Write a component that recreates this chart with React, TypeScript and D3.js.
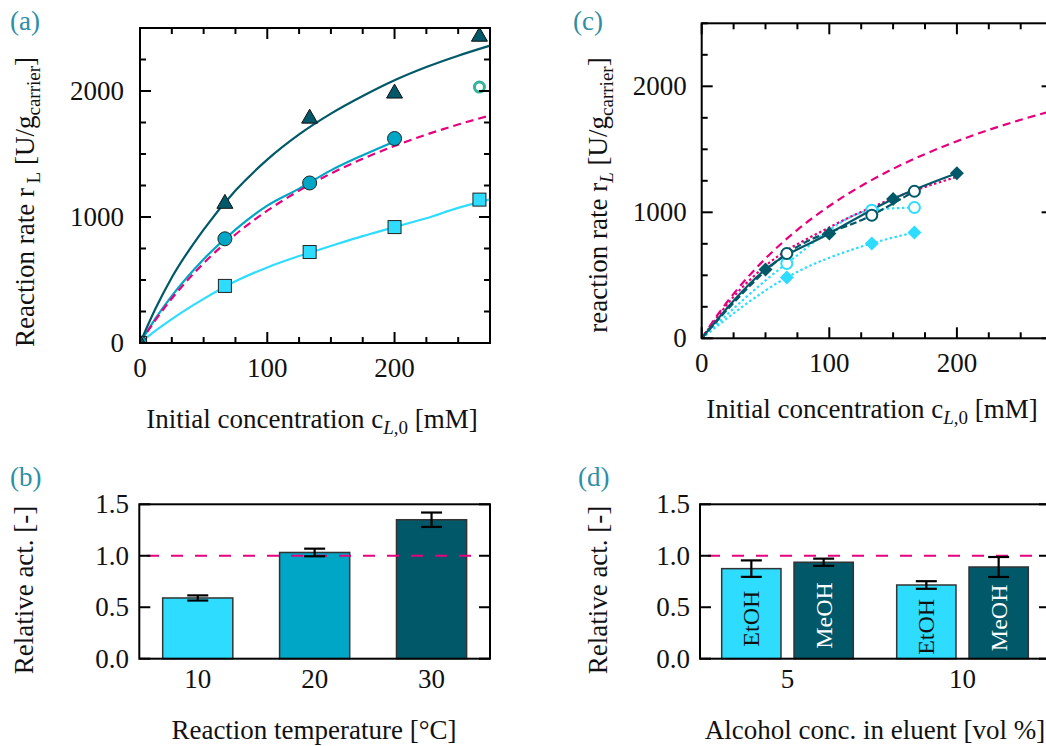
import React from 'react';
import * as d3 from 'd3';

const FONT = "'Liberation Serif', 'Times New Roman', Times, serif";
const C_LIGHT = '#2ddcff';
const C_MID = '#00a6c6';
const C_DARK = '#005868';
const C_MAG = '#e6007e';
const C_OPEN = '#30b59c';
const C_LABEL = '#2e8ea6';
const FS = 27;

// ---------- panel (a) data ----------
const concA = [0, 66.7, 133.3, 200, 266.7];
const rate30 = [0, 1111, 1787, 1986, 2437];
const conc20 = [0, 66.7, 133.3, 200];
const rate20 = [0, 827, 1270, 1623];
const rate10 = [0, 453, 722, 920, 1138];
const openConcA = [266.7];
const openRateA = [2031];
const fitConc = [0, 12.5, 25, 50, 75, 100, 125, 150, 175, 200, 225, 250, 275];
const fit30 = [0, 280, 520, 900, 1210, 1455, 1655, 1820, 1960, 2085, 2190, 2280, 2360];
const fitConc20 = [0, 12.5, 25, 50, 75, 100, 125, 150, 175, 200];
const fit20 = [0, 200, 374, 665, 900, 1090, 1225, 1370, 1490, 1600];
const fitRef = [0, 187, 353, 633, 861, 1050, 1209, 1345, 1462, 1564, 1654, 1734, 1806];
const fit10 = [0, 100, 190, 350, 490, 600, 690, 770, 848, 920, 990, 1072, 1140];

// ---------- panel (c) data ----------
const concDiaDark = [0, 50, 100, 150, 200];
const rateDiaDark = [0, 547, 832, 1106, 1310];
const concC = [0, 66.7, 133.3, 166.7];
const rateOpenDark = [0, 673, 977, 1167];
const rateOpenLight = [0, 594, 1017, 1038];
const rateDiaLight = [0, 483, 753, 840];
const refDotConc = [0, 25, 50, 100, 150, 200];
const refDotRate = [0, 330, 575, 880, 1110, 1281];

// ---------- panel (b) data ----------
const temps = ['10', '20', '30'];
const tempAct = [0.59, 1.032, 1.35];
const tempErr = [0.025, 0.037, 0.07];
const tempColors = [C_LIGHT, C_MID, C_DARK];

// ---------- panel (d) data ----------
const alcConc = ['5', '10'];
const alcTypes = ['EtOH', 'MeOH'];
const actEtOH = [0.875, 0.716];
const actMeOH = [0.937, 0.891];
const errEtOH = [0.08, 0.037];
const errMeOH = [0.035, 0.097];

const rateMajor = [0, 1000, 2000];
const rateMinor = d3.range(0, 2501, 250);
const concMajor = [0, 100, 200];
const concMinor = d3.range(0, 276, 25);
const actTicks = [0, 0.5, 1.0, 1.5];

const zip = (xs: number[], ys: number[]) => ys.map((y, i) => [xs[i], y] as [number, number]);

function Frame({ x, y, xMaj, xMin, yMaj, yMin }: any) {
  const [x0, x1] = x.range();
  const [y0, y1] = y.range();
  const L = 11, S = 6;
  const lines: any[] = [];
  (xMin || []).forEach((v: number, i: number) => {
    const p = x(v);
    const len = xMaj.includes(v) ? L : S;
    lines.push(<line key={'xb' + i} x1={p} x2={p} y1={y0} y2={y0 - len} />);
    lines.push(<line key={'xt' + i} x1={p} x2={p} y1={y1} y2={y1 + len} />);
  });
  (yMin || []).forEach((v: number, i: number) => {
    const p = y(v);
    const len = yMaj.includes(v) ? L : S;
    lines.push(<line key={'yl' + i} x1={x0} x2={x0 + len} y1={p} y2={p} />);
    lines.push(<line key={'yr' + i} x1={x1} x2={x1 - len} y1={p} y2={p} />);
  });
  return (
    <g stroke="#000" strokeWidth={2} fill="none">
      {lines}
      <rect x={x0} y={y1} width={x1 - x0} height={y0 - y1} />
    </g>
  );
}

function triPath(cx: number, cy: number, s: number) {
  const h = s * 0.87;
  return `M${cx},${cy - h * 0.62}L${cx + s / 2},${cy + h * 0.38}L${cx - s / 2},${cy + h * 0.38}Z`;
}
function diaPath(cx: number, cy: number, s: number) {
  return `M${cx},${cy - s}L${cx + s},${cy}L${cx},${cy + s}L${cx - s},${cy}Z`;
}

function PanelA() {
  const x = d3.scaleLinear().domain([0, 275]).range([140, 490]);
  const y = d3.scaleLinear().domain([0, 2500]).range([343, 28]);
  const line = d3.line<[number, number]>().x(d => x(d[0])).y(d => y(d[1])).curve(d3.curveMonotoneX);
  return (
    <g>
      <defs>
        <clipPath id="clipA"><rect x={140} y={28} width={350} height={315} /></clipPath>
      </defs>
      <g fill="none" strokeWidth={2.2}>
        <path d={line(zip(fitConc, fit10))!} stroke={C_LIGHT} />
        <path d={line(zip(fitConc20, fit20))!} stroke={C_MID} />
        <path d={line(zip(fitConc, fitRef))!} stroke={C_MAG} strokeDasharray="8,5" />
        <path d={line(zip(fitConc, fit30))!} stroke={C_DARK} />
      </g>
      <g clipPath="url(#clipA)">
        {concA.map((c, i) => (
          <rect key={'s' + i} x={x(c) - 6.5} y={y(rate10[i]) - 6.5} width={13} height={13} fill={C_LIGHT} stroke="#222" strokeWidth={1} />
        ))}
        {conc20.map((c, i) => (
          <circle key={'c' + i} cx={x(c)} cy={y(rate20[i])} r={7} fill={C_MID} stroke="#222" strokeWidth={1} />
        ))}
        {concA.map((c, i) => (
          <path key={'t' + i} d={triPath(x(c), y(rate30[i]), 16)} fill={C_DARK} stroke="#111" strokeWidth={1} />
        ))}
        {openConcA.map((c, i) => (
          <circle key={'o' + i} cx={x(c)} cy={y(openRateA[i])} r={5} fill="none" stroke={C_OPEN} strokeWidth={3} />
        ))}
      </g>
      <Frame x={x} y={y} xMaj={concMajor} xMin={concMinor} yMaj={rateMajor} yMin={rateMinor} />
      <g fontFamily={FONT} fontSize={FS} fill="#111">
        {rateMajor.map(v => (
          <text key={v} x={124} y={y(v) + 9} textAnchor="end">{v}</text>
        ))}
        {concMajor.map(v => (
          <text key={v} x={x(v)} y={377} textAnchor="middle">{v}</text>
        ))}
        <text x={312} y={428} textAnchor="middle">
          Initial concentration c<tspan dy={6} fontSize={19} fontStyle="italic">L</tspan><tspan fontSize={19}>,0</tspan><tspan dy={-6}> [mM]</tspan>
        </text>
        <text transform="translate(34,202) rotate(-90)" textAnchor="middle">
          Reaction rate r<tspan dy={6} fontSize={19}> L</tspan><tspan dy={-6}> [U/g</tspan><tspan dy={6} fontSize={19}>carrier</tspan><tspan dy={-6}>]</tspan>
        </text>
        <text x={10} y={30} fontSize={27} fill={C_LABEL}>(a)</text>
      </g>
    </g>
  );
}

function PanelC() {
  const x = d3.scaleLinear().domain([0, 275]).range([701.7, 1052.6]);
  const y = d3.scaleLinear().domain([0, 2500]).range([338.3, 23.3]);
  const line = d3.line<[number, number]>().x(d => x(d[0])).y(d => y(d[1])).curve(d3.curveMonotoneX);
  return (
    <g>
      <g fill="none" strokeWidth={2.2}>
        <path d={line(zip(fitConc, fitRef))!} stroke={C_MAG} strokeDasharray="8,5" />
        <path d={line(zip(concC, rateDiaLight))!} stroke={C_LIGHT} strokeDasharray="2.5,2.5" />
        <path d={line(zip(concC, rateOpenLight))!} stroke={C_LIGHT} strokeDasharray="2.5,2.5" />
        <path d={line(zip(refDotConc, refDotRate))!} stroke={C_MAG} strokeDasharray="2.5,2.5" />
        <path d={line(zip(concC, rateOpenDark))!} stroke={C_DARK} strokeDasharray="7,3" />
        <path d={line(zip(concDiaDark, rateDiaDark))!} stroke={C_DARK} />
      </g>
      {concC.slice(1).map((c, i) => (
        <path key={'dl' + i} d={diaPath(x(c), y(rateDiaLight[i + 1]), 7)} fill={C_LIGHT} />
      ))}
      {concC.slice(1).map((c, i) => (
        <circle key={'ol' + i} cx={x(c)} cy={y(rateOpenLight[i + 1])} r={5.5} fill="#fff" stroke={C_LIGHT} strokeWidth={2} />
      ))}
      {concDiaDark.slice(1).map((c, i) => (
        <path key={'dd' + i} d={diaPath(x(c), y(rateDiaDark[i + 1]), 7)} fill={C_DARK} />
      ))}
      {concC.slice(1).map((c, i) => (
        <circle key={'od' + i} cx={x(c)} cy={y(rateOpenDark[i + 1])} r={5.5} fill="#fff" stroke={C_DARK} strokeWidth={2} />
      ))}
      <Frame x={x} y={y} xMaj={concMajor} xMin={concMinor} yMaj={rateMajor} yMin={rateMinor} />
      <g fontFamily={FONT} fontSize={FS} fill="#111">
        {rateMajor.map(v => (
          <text key={v} x={686.7} y={y(v) + 9} textAnchor="end">{v}</text>
        ))}
        {concMajor.map(v => (
          <text key={v} x={x(v)} y={372} textAnchor="middle">{v}</text>
        ))}
        <text x={872} y={418} textAnchor="middle">
          Initial concentration c<tspan dy={6} fontSize={19} fontStyle="italic">L</tspan><tspan fontSize={19}>,0</tspan><tspan dy={-6}> [mM]</tspan>
        </text>
        <text transform="translate(607,195) rotate(-90)" textAnchor="middle">
          reaction rate r<tspan dy={6} fontSize={19} fontStyle="italic">L</tspan><tspan dy={-6}> [U/g</tspan><tspan dy={6} fontSize={19}>carrier</tspan><tspan dy={-6}>]</tspan>
        </text>
        <text x={573} y={30} fontSize={27} fill={C_LABEL}>(c)</text>
      </g>
    </g>
  );
}

function ErrBar({ cx, y, v, e }: any) {
  const w = 10.5;
  return (
    <g stroke="#000" strokeWidth={2.2}>
      <line x1={cx} x2={cx} y1={y(v + e)} y2={y(v - e)} />
      <line x1={cx - w} x2={cx + w} y1={y(v + e)} y2={y(v + e)} />
      <line x1={cx - w} x2={cx + w} y1={y(v - e)} y2={y(v - e)} />
    </g>
  );
}

function PanelB() {
  const x = d3.scaleBand<string>().domain(temps).range([139.3, 490]).paddingInner(0.4).paddingOuter(0.2);
  const y = d3.scaleLinear().domain([0, 1.5]).range([658.7, 504.3]);
  return (
    <g>
      {temps.map((t, i) => (
        <rect key={t} x={x(t)!} y={y(tempAct[i])} width={x.bandwidth()} height={y(0) - y(tempAct[i])} fill={tempColors[i]} stroke="#333" strokeWidth={1.5} />
      ))}
      <line x1={147} x2={482} y1={y(1)} y2={y(1)} stroke={C_MAG} strokeWidth={2.2} strokeDasharray="12,12" />
      {temps.map((t, i) => (
        <ErrBar key={t} cx={x(t)! + x.bandwidth() / 2} y={y} v={tempAct[i]} e={tempErr[i]} />
      ))}
      <Frame x={d3.scaleLinear().range([139.3, 490])} y={y} xMaj={[]} xMin={[]} yMaj={actTicks} yMin={actTicks} />
      <g fontFamily={FONT} fontSize={FS} fill="#111">
        {actTicks.map(v => (
          <text key={v} x={129} y={y(v) + 9} textAnchor="end">{v.toFixed(1)}</text>
        ))}
        {temps.map(t => (
          <text key={t} x={x(t)! + x.bandwidth() / 2} y={688} textAnchor="middle">{t}</text>
        ))}
        <text x={314} y={739} textAnchor="middle">Reaction temperature [°C]</text>
        <text transform="translate(33,590) rotate(-90)" textAnchor="middle">Relative act. [-]</text>
        <text x={10} y={486} fontSize={27} fill={C_LABEL}>(b)</text>
      </g>
    </g>
  );
}

function PanelD() {
  const x = d3.scaleBand<string>().domain(alcConc).range([700, 1050]).paddingInner(0).paddingOuter(0);
  const xi = d3.scaleBand<string>().domain(alcTypes).range([0, x.bandwidth()]).paddingInner(0.18).paddingOuter(0.3);
  const y = d3.scaleLinear().domain([0, 1.5]).range([658.7, 504.3]);
  const series = [
    { name: 'EtOH', vals: actEtOH, errs: errEtOH, fill: C_LIGHT, text: '#111' },
    { name: 'MeOH', vals: actMeOH, errs: errMeOH, fill: C_DARK, text: '#fff' },
  ];
  return (
    <g>
      {alcConc.map((g, gi) =>
        series.map(s => {
          const bx = x(g)! + xi(s.name)!;
          return (
            <rect key={g + s.name} x={bx} y={y(s.vals[gi])} width={xi.bandwidth()} height={y(0) - y(s.vals[gi])} fill={s.fill} stroke="#333" strokeWidth={1.5} />
          );
        })
      )}
      <line x1={708} x2={1040} y1={y(1)} y2={y(1)} stroke={C_MAG} strokeWidth={2.2} strokeDasharray="12,12" />
      {alcConc.map((g, gi) =>
        series.map(s => {
          const cx = x(g)! + xi(s.name)! + xi.bandwidth() / 2;
          const cy = (y(s.vals[gi]) + y(0)) / 2 + 5;
          return (
            <g key={'l' + g + s.name}>
              <text transform={`translate(${cx + 8},${cy}) rotate(-90)`} textAnchor="middle" fontFamily={FONT} fontSize={24} fill={s.text}>{s.name}</text>
              <ErrBar cx={cx} y={y} v={s.vals[gi]} e={s.errs[gi]} />
            </g>
          );
        })
      )}
      <Frame x={d3.scaleLinear().range([700, 1050])} y={y} xMaj={[]} xMin={[]} yMaj={actTicks} yMin={actTicks} />
      <g fontFamily={FONT} fontSize={FS} fill="#111">
        {actTicks.map(v => (
          <text key={v} x={690} y={y(v) + 9} textAnchor="end">{v.toFixed(1)}</text>
        ))}
        {alcConc.map(g => (
          <text key={g} x={x(g)! + x.bandwidth() / 2} y={688} textAnchor="middle">{g}</text>
        ))}
        <text x={875} y={739} textAnchor="middle">Alcohol conc. in eluent [vol %]</text>
        <text transform="translate(607,590) rotate(-90)" textAnchor="middle">Relative act. [-]</text>
        <text x={578} y={486} fontSize={27} fill={C_LABEL}>(d)</text>
      </g>
    </g>
  );
}

export default function App() {
  return (
    <svg width={1046} height={746} style={{ position: 'absolute', left: 0, top: 0, background: '#fff' }}>
      <rect x={0} y={0} width={1046} height={746} fill="#fff" />
      <PanelA />
      <PanelC />
      <PanelB />
      <PanelD />
    </svg>
  );
}
